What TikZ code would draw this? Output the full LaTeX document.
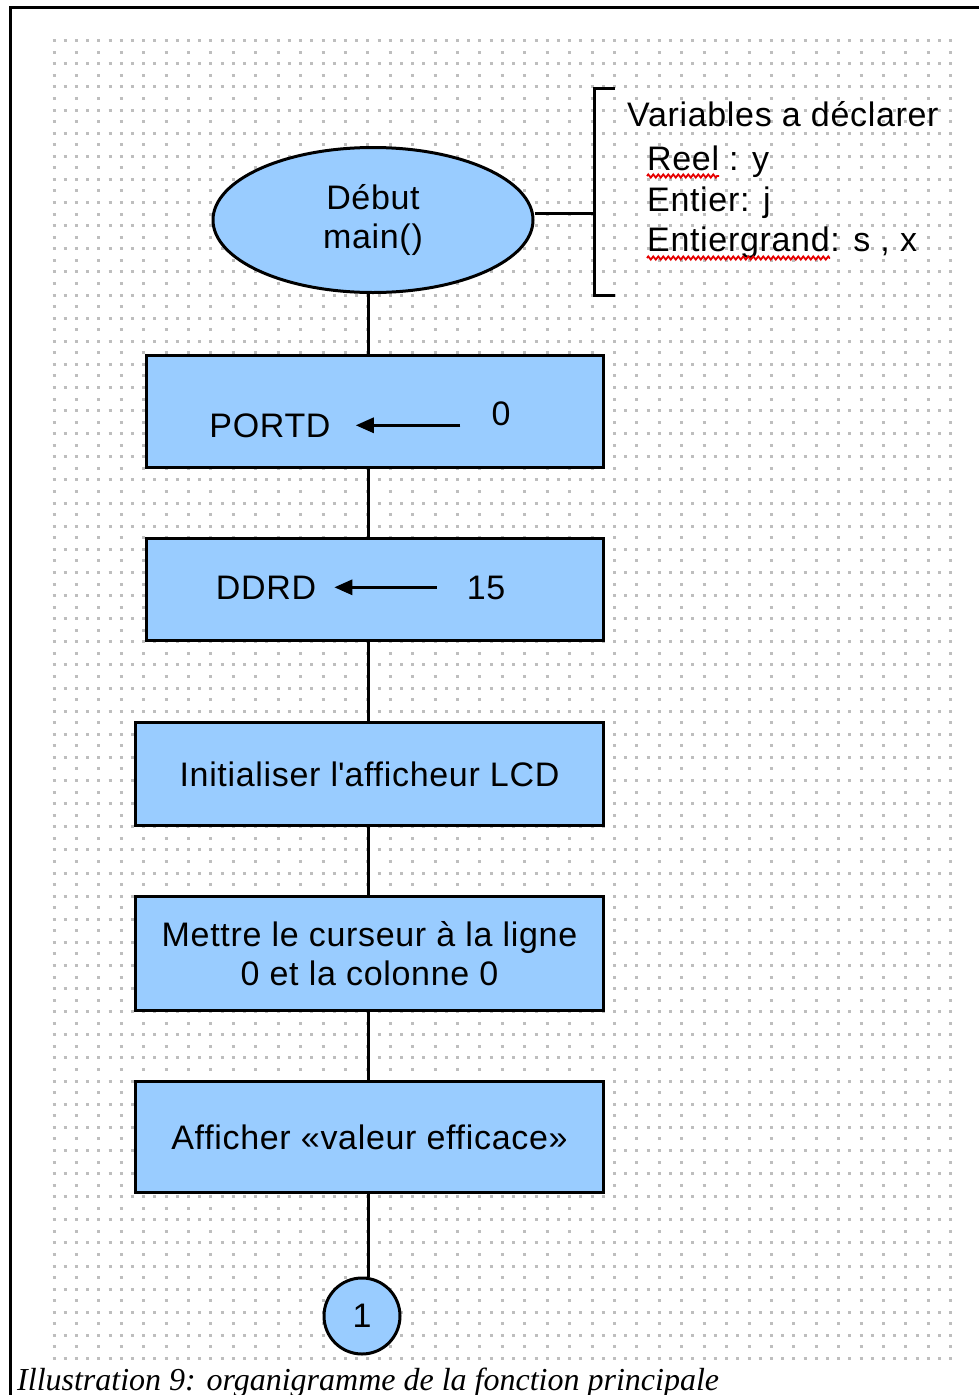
\documentclass[tikz,border=0pt]{standalone}
\usepackage{fontspec}
\setmainfont[LetterSpace=2.0]{Liberation Sans}
\newfontfamily\legendefont{Liberation Serif}
\usetikzlibrary{arrows.meta}
\usetikzlibrary{shapes.geometric, decorations.pathmorphing}

\definecolor{bleuorg}{RGB}{153,204,255}
\definecolor{pointgrille}{RGB}{190,190,190}
\definecolor{rougefaute}{RGB}{230,0,0}

\begin{document}
\begin{tikzpicture}[x=1pt,y=-1pt,
    font=\fontsize{34}{39}\selectfont,
    lien/.style={line width=3pt},
    bloc/.style={draw, line width=3pt, fill=bleuorg, inner sep=0pt, align=center},
    texte/.style={inner sep=0pt},
    affect/.style={line width=3pt, -{Triangle[length=18pt,width=15pt]}},
    faute/.style={rougefaute, line width=1.8pt, decorate,
      decoration={zigzag, segment length=5pt, amplitude=1.6pt}}]

    \useasboundingbox (0,0) rectangle (978,1395);
    \fill[white] (0,0) rectangle (978,1395);

    % grille de points
    \foreach \i in {0,...,114}{
      \pgfmathsetmacro{\yy}{40.7+11.56*\i}
      \ifodd\i
        \draw[pointgrille, line width=3pt, dash pattern=on 3pt off 19.42pt] (52.5,\yy) -- (956,\yy);
      \else
        \draw[pointgrille, line width=3pt, dash pattern=on 3pt off 8.21pt] (52.5,\yy) -- (956,\yy);
      \fi
    }

    \draw[lien] (10.5,1400) -- (10.5,7.5) -- (990,7.5);

    \coordinate (axe) at (368,0);
    \coordinate (crochet) at (594,213);
    \coordinate (crochetH) at (615,88);
    \coordinate (crochetB) at (615,295);

    \node[bloc, ellipse, minimum width=320pt, minimum height=145pt] (debut) at (373,220) {Début\\main()};

    \node[bloc, minimum width=457pt, minimum height=112pt] (bportd) at (375,411.5) {};
    \node[texte, anchor=base] (portd) at (270,437) {PORTD};
    \node[texte, anchor=base] (zero) at (501,425) {0};

    \node[bloc, minimum width=457pt, minimum height=102pt] (bddrd) at (375,589.5) {};
    \node[texte, anchor=base] (ddrd) at (266,599) {DDRD};
    \node[texte, anchor=base] (quinze) at (486,599) {15};

    \node[bloc, minimum width=468pt, minimum height=103pt] (lcd) at (369.5,774) {Initialiser l\textquotesingle afficheur LCD};
    \node[bloc, minimum width=468pt, minimum height=114pt] (curseur) at (369.5,953.5) {Mettre le curseur à la ligne\\0 et la colonne 0};
    \node[bloc, minimum width=468pt, minimum height=111pt] (affiche) at (369.5,1137) {Afficher «valeur efficace»};

    \node[bloc, circle, minimum size=76pt] (suite) at (362,1316) {1};

    \draw[affect, yshift=3pt, shorten <=31pt, shorten >=25pt] (zero.west |- portd.east) -- (portd.east);
    \draw[affect, yshift=-8pt, shorten <=30pt, shorten >=18pt] (quinze.west |- ddrd.east) -- (ddrd.east);

    \draw[lien] (debut.south -| axe) -- (bportd.north -| axe);
    \foreach \a/\b in {bportd/bddrd, bddrd/lcd, lcd/curseur, curseur/affiche, affiche/suite}
      \draw[lien] (\a.south -| axe) -- (\b.north -| axe);

    % variables
    \draw[lien] (debut.east |- crochet) -- (crochet);
    \draw[lien] (crochetH) -| (crochet) |- (crochetB);
    \node[texte, anchor=base west] (vars) at (627,126) {Variables a déclarer};
    \node[texte, anchor=base west] (reel) at (647,170) {Reel : y};
    \node[texte, anchor=base west] (entier) at (647,211) {Entier: j};
    \node[texte, anchor=base west] (grand) at (647,251) {Entiergrand: s , x};
    \draw[faute] ([yshift=-6pt]reel.base west) -- ++(72,0);
    \draw[faute] ([yshift=-7pt]grand.base west) -- ++(183,0);

    \node[texte, anchor=base west, font=\legendefont\itshape\fontsize{32}{38}\selectfont] (legende) at (17,1390)
      {Illustration 9: organigramme de la fonction principale};

\end{tikzpicture}
\end{document}
